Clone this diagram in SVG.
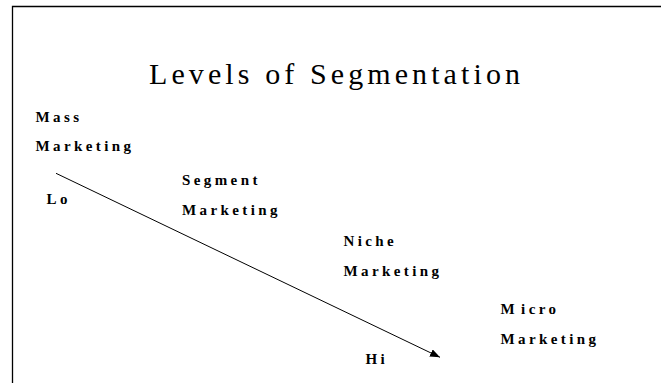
<svg xmlns="http://www.w3.org/2000/svg" width="661" height="383" viewBox="0 0 661 383">
<style>
.t{font-family:"Liberation Serif","Times New Roman",serif;fill:#000}
.title{font-size:30px}
.lbl{font-size:15px;font-weight:bold;letter-spacing:3.4px}
</style>
<defs>
<marker id="ah" markerWidth="10" markerHeight="8" refX="10" refY="4" orient="auto" markerUnits="userSpaceOnUse">
<path d="M0,0 L10,4 L0,8 Z" fill="#000"/>
</marker>
</defs>
<rect width="661" height="383" fill="#fff"/>
<path d="M12.5,383 V6.5 H661" fill="none" stroke="#000" stroke-width="1.3"/>
<text class="t title" x="149" y="84" textLength="371" lengthAdjust="spacing">Levels of Segmentation</text>
<g id="mass"><text class="t lbl" x="35.5" y="121.5">Mass</text><text class="t lbl" x="35.5" y="151">Marketing</text></g>
<g id="segment"><text class="t lbl" x="182" y="184.5">Segment</text><text class="t lbl" x="182" y="214.5">Marketing</text></g>
<g id="niche"><text class="t lbl" x="343.5" y="246">Niche</text><text class="t lbl" x="343.5" y="276">Marketing</text></g>
<g id="micro"><text class="t lbl" x="500.5" y="314">M<tspan dx="3">icro</tspan></text><text class="t lbl" x="500.5" y="344">Marketing</text></g>
<g id="lo"><text class="t lbl" x="46.5" y="204">Lo</text></g>
<g id="hi"><text class="t lbl" x="365.5" y="363.5" letter-spacing="5">Hi</text></g>
<g id="connectors"><line x1="56" y1="173.3" x2="440" y2="357.3" stroke="#000" stroke-width="1" marker-end="url(#ah)"/></g>
</svg>
